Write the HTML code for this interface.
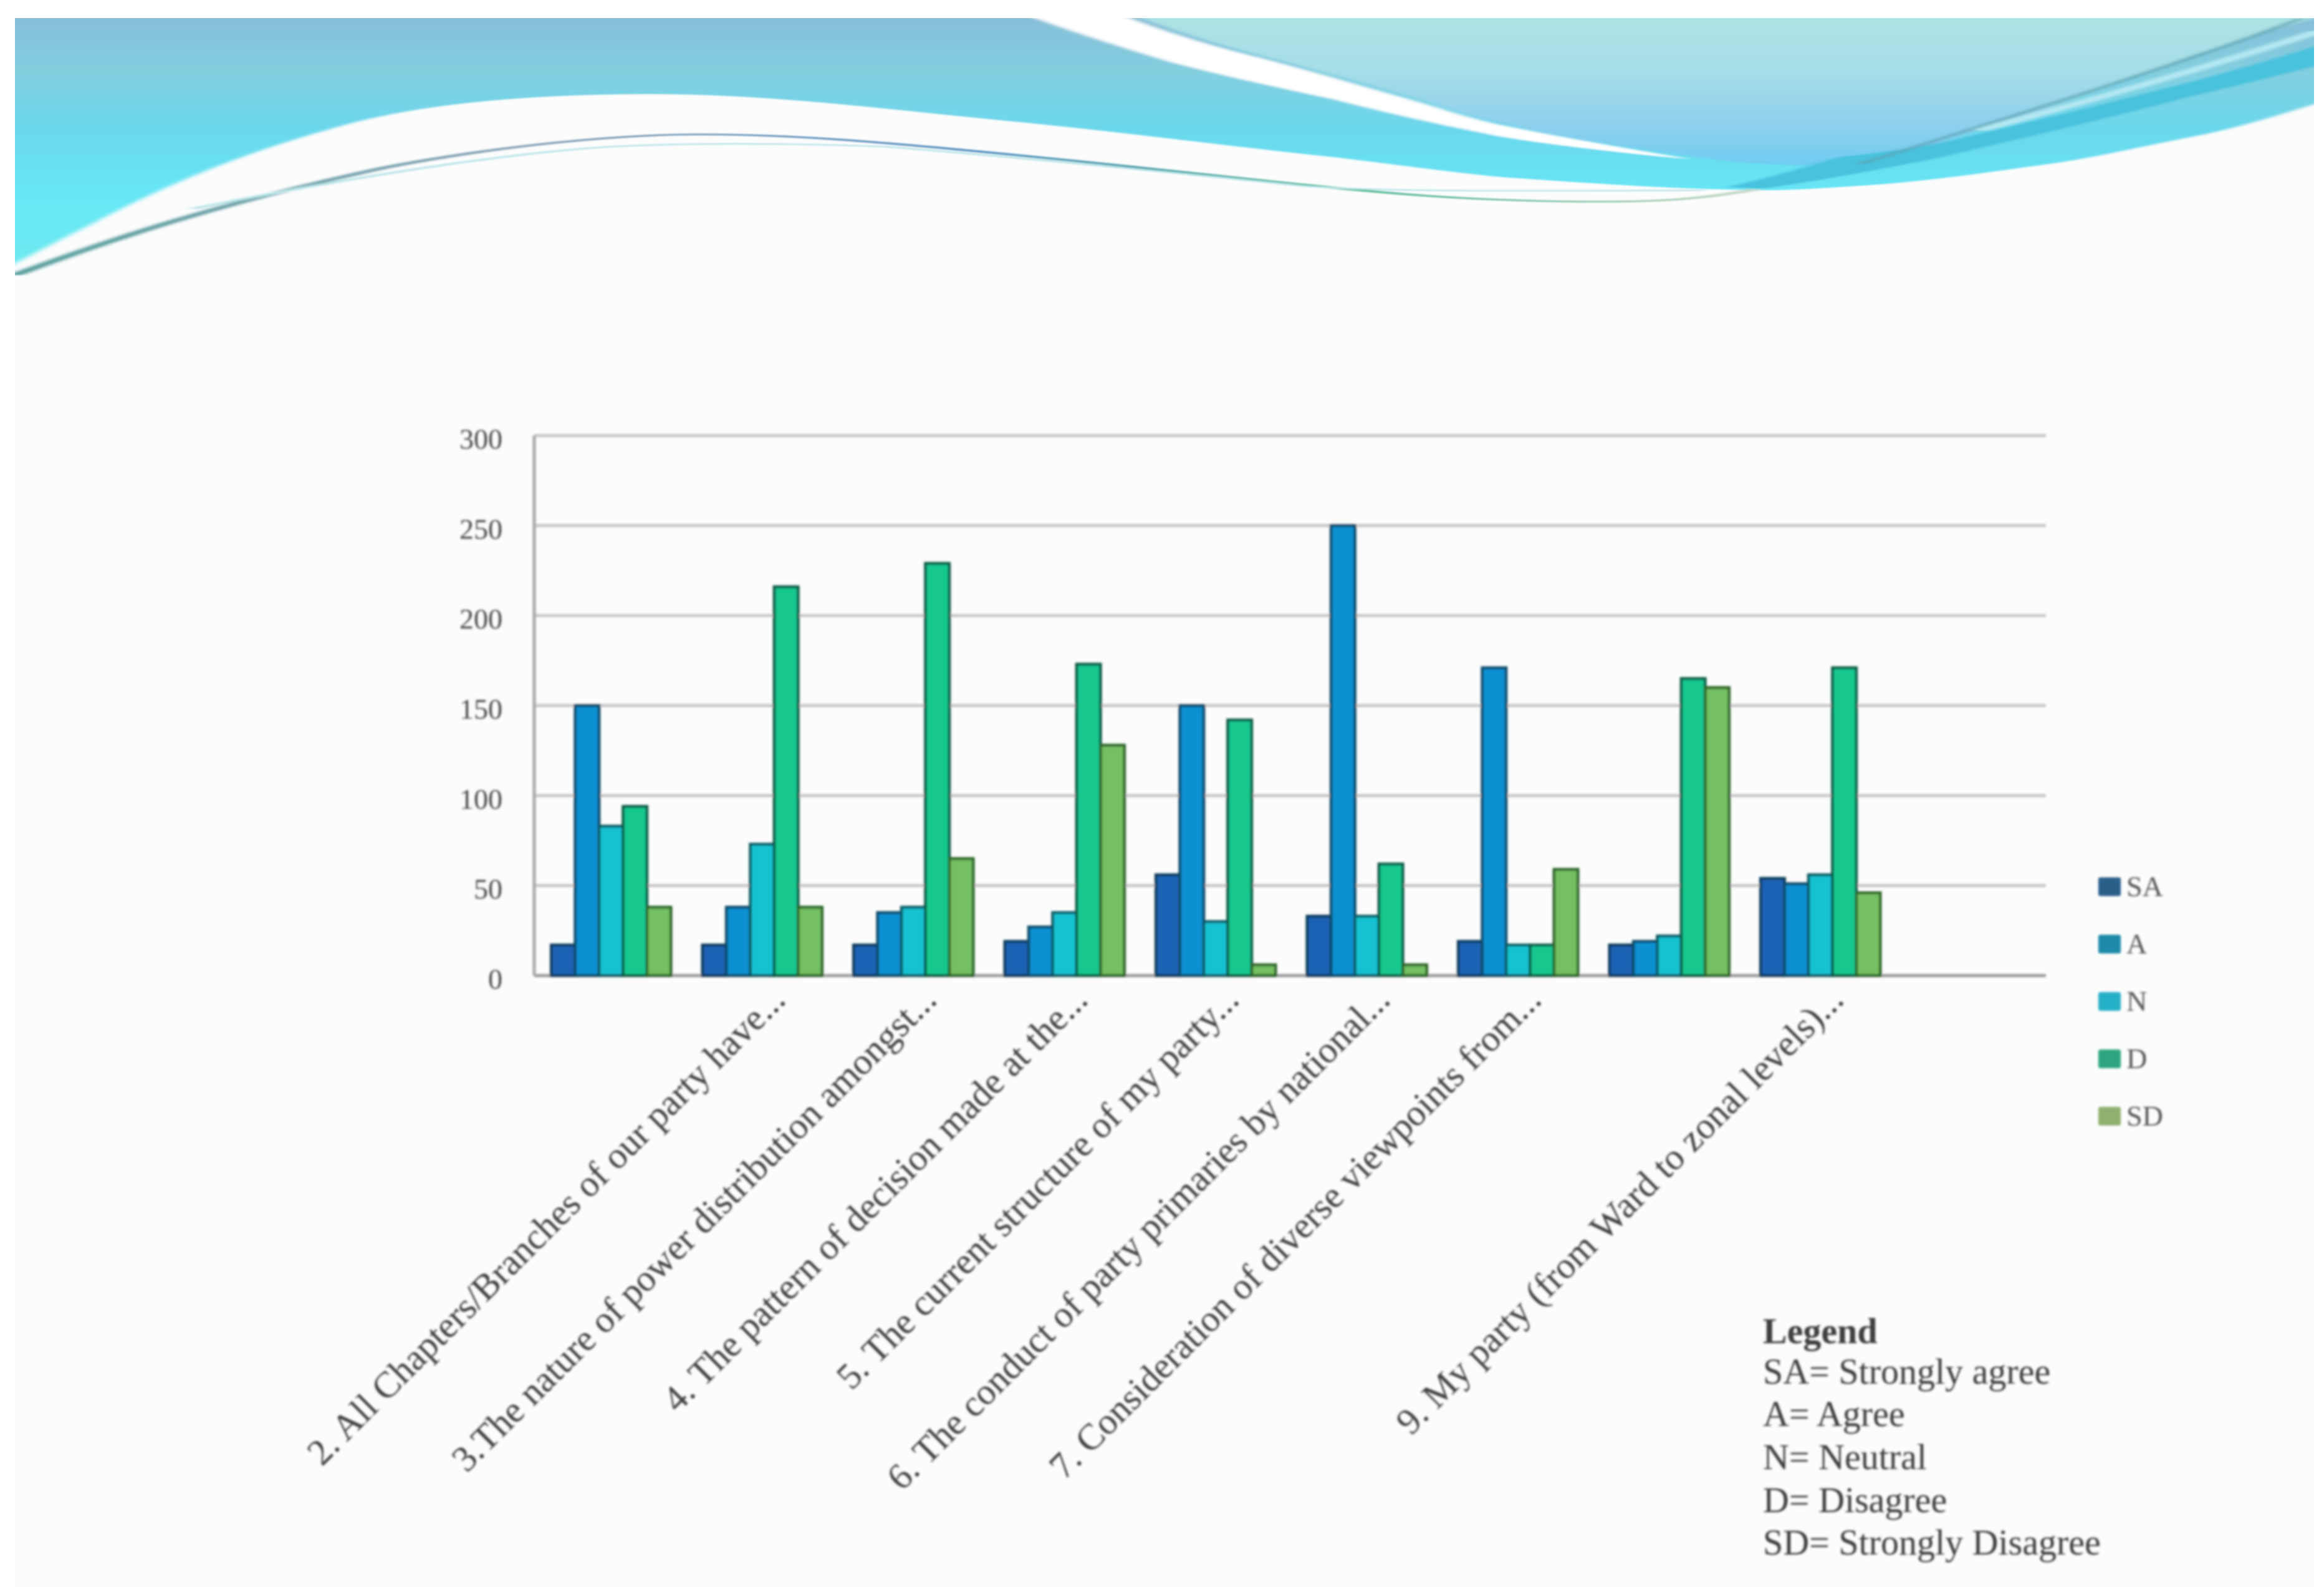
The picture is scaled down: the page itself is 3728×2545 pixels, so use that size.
<!DOCTYPE html>
<html lang="en">
<head>
<meta charset="utf-8">
<title>Party survey responses chart</title>
<style>
html,body{margin:0;padding:0;background:#fff;}
body{width:3728px;height:2545px;overflow:hidden;position:relative;}
svg{display:block;position:absolute;left:0;top:0;}
text{font-family:"Liberation Serif","DejaVu Serif",serif;}
</style>
</head>
<body>
<svg id="slide" width="3728" height="2545" viewBox="0 0 3728 2545">
  <defs>
    <linearGradient id="mainFill" gradientUnits="userSpaceOnUse" x1="0" y1="87" x2="0" y2="1300">
      <stop offset="0" stop-color="#86bfd8"/>
      <stop offset="0.22" stop-color="#82cfe0"/>
      <stop offset="0.45" stop-color="#6ad8ec"/>
      <stop offset="0.7" stop-color="#66e6f6"/>
      <stop offset="1" stop-color="#6eeaf0"/>
    </linearGradient>
    <linearGradient id="upperFill" gradientUnits="userSpaceOnUse" x1="0" y1="87" x2="0" y2="800">
      <stop offset="0" stop-color="#aee3e4"/>
      <stop offset="0.35" stop-color="#a6dee8"/>
      <stop offset="0.7" stop-color="#90d0ec"/>
      <stop offset="1" stop-color="#70ccf2"/>
    </linearGradient>
    <linearGradient id="waveStroke" gradientUnits="userSpaceOnUse" x1="10" y1="0" x2="1190" y2="0">
      <stop offset="0" stop-color="#4f9a98"/>
      <stop offset="0.3" stop-color="#8fa8bc"/>
      <stop offset="0.55" stop-color="#5a94c4"/>
      <stop offset="0.75" stop-color="#4fb894"/>
      <stop offset="1" stop-color="#c8d8c8"/>
    </linearGradient>
    <filter id="softHeader" x="-2%" y="-2%" width="104%" height="104%"><feGaussianBlur stdDeviation="3"/></filter>
    <filter id="softChart" x="-2%" y="-2%" width="104%" height="104%"><feGaussianBlur stdDeviation="1.8"/></filter>
    <filter id="softText" x="-5%" y="-5%" width="110%" height="110%"><feGaussianBlur stdDeviation="1.8"/></filter>
    <clipPath id="pageClip"><rect x="24" y="29" width="3688" height="2516"/></clipPath>
  </defs>

  <rect x="24" y="29" width="3688" height="2516" fill="#fcfcfc"/>

  <g clip-path="url(#pageClip)">
    <svg x="0" y="0" width="3728" height="520" viewBox="0 0 1568 1568" preserveAspectRatio="none" style="position:static">
      <g filter="url(#softHeader)">
        <path fill="url(#mainFill)" d="M0,60 L1568,60 L1568,490 C1540,550 1510,620 1478,663 C1440,715 1410,770 1370,805 C1330,845 1300,875 1262,895 C1230,910 1210,920 1190,920 C1165,918 1140,912 1117,904 C1080,890 1040,870 1009,854 C970,825 930,785 900,760 C820,700 760,640 680,585 C600,530 520,455 440,455 C340,455 270,520 220,630 C160,750 110,900 60,1090 C40,1160 20,1240 0,1310 Z"/>
        <path fill="#ffffff" d="M688,60 L752,60 C780,140 810,210 850,280 C885,345 915,410 950,480 C970,520 985,560 1009,600 C1040,645 1070,685 1140,770 C1090,735 1040,695 1009,655 C970,600 935,545 900,480 C860,420 825,365 790,300 C755,225 720,145 688,60 Z"/>
        <path fill="url(#upperFill)" d="M760,60 L1575,60 C1540,130 1500,220 1478,271 C1450,340 1430,410 1406,461 C1380,530 1360,575 1334,633 C1310,690 1285,750 1255,793 C1230,805 1190,800 1160,775 C1070,685 1040,645 1017,600 C990,560 975,520 958,480 C925,410 892,345 858,280 C818,210 790,140 760,60 Z"/>
        <path fill="#48c2de" d="M1165,905 C1200,850 1225,790 1240,760 C1260,745 1280,725 1297,708 C1320,675 1345,630 1370,588 C1405,530 1445,455 1478,395 C1510,335 1540,270 1568,210 L1568,310 C1540,360 1510,415 1478,467 C1445,530 1405,600 1370,660 C1345,700 1320,745 1297,780 C1270,815 1240,860 1190,912 Z"/>
        <path fill="none" stroke="#b4e8f2" stroke-width="12" d="M1565,150 C1500,300 1410,490 1335,630"/>
        <path fill="none" stroke="#5aa4b4" stroke-width="5" d="M1552,90 C1490,260 1400,470 1255,793"/>
        <path fill="none" stroke="url(#waveStroke)" stroke-width="9" d="M10,1330 C60,1200 130,1010 260,810 C340,700 420,650 470,650 C540,650 600,690 700,760 C800,830 880,900 950,940 C1010,975 1090,985 1130,965 C1150,955 1170,935 1185,915"/>
        <path fill="none" stroke="#b8e4e8" stroke-width="7" d="M130,1010 C220,880 320,760 400,715 C450,690 530,690 600,710 C700,770 800,840 880,900 C930,925 1000,925 1150,920"/>
      </g>
    </svg>
  </g>

  <g id="chartLayer" filter="url(#softChart)"></g>
  <g id="textLayer" filter="url(#softText)"></g>

  <g filter="url(#softText)" fill="#3c3c3c" font-size="58">
    <text x="2828" y="2154" font-weight="bold">Legend</text>
    <text x="2828" y="2219">SA= Strongly agree</text>
    <text x="2828" y="2287">A= Agree</text>
    <text x="2828" y="2356">N= Neutral</text>
    <text x="2828" y="2425">D= Disagree</text>
    <text x="2828" y="2493">SD= Strongly Disagree</text>
  </g>
</svg>

<script>
const categories = ['', '2. All Chapters/Branches of our party have...', '3.The nature of power distribution amongst...', '4. The pattern of decision made at the...', '5. The current structure of my party...', '6. The conduct of party primaries by national...', '7. Consideration of diverse viewpoints from...', '', '9. My party (from Ward to zonal levels)...'];
const seriesNames = ['SA', 'A', 'N', 'D', 'SD'];
const valuesSA = [17, 17, 17, 19, 56, 33, 19, 17, 54];
const valuesA = [150, 38, 35, 27, 150, 250, 171, 19, 51];
const valuesN = [83, 73, 38, 35, 30, 33, 17, 22, 56];
const valuesD = [94, 216, 229, 173, 142, 62, 17, 165, 171];
const valuesSD = [38, 38, 65, 128, 6, 6, 59, 160, 46];
const yTicks = [0, 50, 100, 150, 200, 250, 300];

const allSeries = [valuesSA, valuesA, valuesN, valuesD, valuesSD];
const barFills = ['#1b62b4', '#0f90d2', '#16c2d2', '#12c88e', '#74c062'];
const barStrokes = ['#0f3a5c', '#0e4a68', '#0c5860', '#0c5a44', '#2a6428'];
const swatchFills = ['#2b5f8a', '#1f8aa8', '#25b0c8', '#2fa580', '#8fb070'];

const NS = 'http://www.w3.org/2000/svg';
const plot = { left: 857, right: 3282, top: 698.5, bottom: 1564.5, slots: 10, yMax: 300 };
const chartLayer = document.getElementById('chartLayer');
const textLayer = document.getElementById('textLayer');

function yScale(v) {
  return plot.bottom - (v / plot.yMax) * (plot.bottom - plot.top);
}
function xCenter(i) {
  return plot.left + (plot.right - plot.left) / plot.slots * (i + 0.5);
}
function make(tag, attrs, parent) {
  const el = document.createElementNS(NS, tag);
  Object.keys(attrs).forEach(function (k) { el.setAttribute(k, attrs[k]); });
  parent.appendChild(el);
  return el;
}

yTicks.forEach(function (t) {
  if (t !== 0) {
    const grid = make('line', { x1: plot.left, x2: plot.right, y1: yScale(t), y2: yScale(t), stroke: '#c8c8c8', 'stroke-width': 5 }, chartLayer);
    
    
  }
  const label = make('text', { x: 806, y: yScale(t) + 21, 'text-anchor': 'end', 'font-size': 46, fill: '#4a4a4a' }, textLayer);
  label.textContent = String(t);
  
  
});

const yAxis = make('line', { x1: plot.left, x2: plot.left, y1: plot.top, y2: plot.bottom, stroke: '#a8a8a8', 'stroke-width': 5 }, chartLayer);


const xAxis = make('line', { x1: plot.left, x2: plot.right, y1: plot.bottom, y2: plot.bottom, stroke: '#9c9c9c', 'stroke-width': 5 }, chartLayer);



const barWidth = 38.4;
categories.forEach(function (cat, i) {
  const start = xCenter(i) - barWidth * seriesNames.length / 2 + 2;
  allSeries.forEach(function (vals, s) {
    const top = yScale(vals[i]);
    const bar = make('rect', { x: start + s * barWidth, y: top, width: barWidth, height: plot.bottom - top, fill: barFills[s], stroke: barStrokes[s], 'stroke-width': 4.5 }, chartLayer);
    
    
  });
  if (cat) {
    const cx = xCenter(i) + 42;
    const cy = plot.bottom + 42;
    const lab = make('text', { x: cx, y: cy, 'text-anchor': 'end', 'font-size': 59, fill: '#3f3f3f', transform: 'rotate(-45 ' + cx + ' ' + cy + ')' }, textLayer);
    lab.textContent = cat;
    
    
  }
});

const legendTop = 1422;
const legendStep = 92;
seriesNames.forEach(function (name, s) {
  const cy = legendTop + s * legendStep;
  const swatch = make('rect', { x: 3366, y: cy - 15, width: 36, height: 30, rx: 3, fill: swatchFills[s] }, chartLayer);
  
  
  const txt = make('text', { x: 3411, y: cy + 15, 'font-size': 46, fill: '#555' }, textLayer);
  txt.textContent = name;
  
  
});
</script>
</body>
</html>
